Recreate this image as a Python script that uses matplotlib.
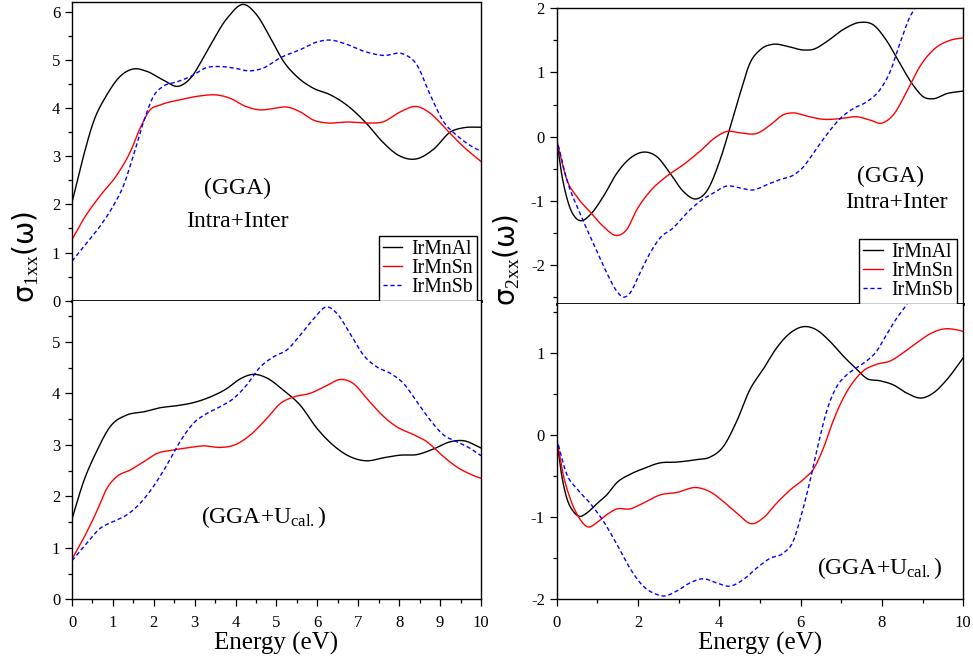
import matplotlib
matplotlib.use("Agg")
import matplotlib.pyplot as plt
import numpy as np
from matplotlib.ticker import MultipleLocator

plt.rcParams['font.family'] = ['Liberation Serif', 'DejaVu Sans']
plt.rcParams['mathtext.fontset'] = 'custom'
plt.rcParams['mathtext.rm'] = 'Liberation Serif'
plt.rcParams['mathtext.sf'] = 'DejaVu Sans'
plt.rcParams['axes.unicode_minus'] = False

names = ['IrMnAl', 'IrMnSn', 'IrMnSb']

# sigma_1xx, GGA (intra+inter)
e_1a_al = [0, 0.28, 0.52, 0.85, 1.17, 1.5, 1.83, 2.23, 2.6, 2.9, 3.3, 3.8, 4.2, 4.5, 4.85, 5.17,
           5.5, 5.9, 6.3, 6.72, 7.2, 7.6, 8.0, 8.4, 8.85, 9.25, 9.58, 10]
s_1a_al = [2.04, 3.0, 3.7, 4.27, 4.65, 4.81, 4.76, 4.58, 4.45, 4.62, 5.18, 5.87, 6.15, 5.95, 5.46, 4.97,
           4.65, 4.41, 4.28, 4.06, 3.68, 3.29, 3.01, 2.94, 3.15, 3.5, 3.59, 3.6]
e_1a_sn = [0, 0.28, 0.69, 1.09, 1.42, 1.66, 1.91, 2.15, 2.64, 3.13, 3.54, 3.87, 4.2, 4.6, 4.93, 5.25,
           5.58, 5.9, 6.23, 6.72, 7.2, 7.6, 8.03, 8.43, 8.76, 9.17, 9.58, 10]
s_1a_sn = [1.27, 1.69, 2.18, 2.6, 3.08, 3.57, 3.96, 4.06, 4.17, 4.25, 4.27, 4.2, 4.05, 3.96, 3.99, 4.02,
           3.92, 3.75, 3.69, 3.71, 3.69, 3.71, 3.92, 4.03, 3.89, 3.54, 3.19, 2.89]
e_1a_sb = [0, 0.36, 0.69, 1.01, 1.26, 1.5, 1.75, 1.99, 2.23, 2.56, 2.89, 3.3, 3.62, 3.95, 4.36, 4.68,
           5.09, 5.58, 5.99, 6.31, 6.72, 7.13, 7.62, 8.1, 8.43, 8.76, 9.09, 9.41, 9.74, 10]
s_1a_sb = [0.82, 1.2, 1.55, 1.97, 2.39, 3.01, 3.71, 4.24, 4.45, 4.54, 4.65, 4.84, 4.86, 4.83, 4.77, 4.83,
           5.04, 5.21, 5.37, 5.41, 5.32, 5.18, 5.09, 5.12, 4.9, 4.27, 3.71, 3.43, 3.22, 3.1]

# sigma_1xx, GGA+U
e_1b_al = [0, 0.28, 0.6, 0.93, 1.34, 1.75, 2.15, 2.56, 2.97, 3.38, 3.78, 4.11, 4.44, 4.76, 5.17, 5.58,
           5.99, 6.39, 6.8, 7.21, 7.62, 8.03, 8.43, 8.84, 9.25, 9.58, 10]
s_1b_al = [1.56, 2.28, 2.87, 3.35, 3.58, 3.64, 3.72, 3.76, 3.82, 3.93, 4.09, 4.28, 4.37, 4.3, 4.06, 3.77,
           3.32, 2.99, 2.77, 2.69, 2.75, 2.8, 2.81, 2.92, 3.06, 3.08, 2.94]
e_1b_sn = [0, 0.28, 0.6, 0.85, 1.09, 1.42, 1.75, 2.07, 2.48, 2.89, 3.21, 3.62, 3.95, 4.36, 4.76, 5.09,
           5.42, 5.82, 6.23, 6.56, 6.88, 7.21, 7.54, 7.94, 8.35, 8.68, 9.0, 9.41, 9.74, 10]
s_1b_sn = [0.78, 1.18, 1.7, 2.15, 2.38, 2.51, 2.67, 2.83, 2.9, 2.95, 2.98, 2.95, 2.99, 3.19, 3.51, 3.8,
           3.93, 4.0, 4.15, 4.27, 4.19, 3.9, 3.61, 3.35, 3.2, 3.06, 2.83, 2.57, 2.43, 2.35]
e_1b_sb = [0, 0.36, 0.69, 1.01, 1.34, 1.66, 1.99, 2.32, 2.64, 2.97, 3.3, 3.62, 3.95, 4.27, 4.6, 4.93,
           5.25, 5.58, 5.91, 6.23, 6.48, 6.8, 7.13, 7.46, 7.78, 8.11, 8.43, 8.76, 9.09, 9.41, 9.74, 10]
s_1b_sb = [0.75, 1.09, 1.38, 1.51, 1.64, 1.86, 2.19, 2.61, 3.06, 3.42, 3.61, 3.74, 3.9, 4.16, 4.51, 4.71,
           4.84, 5.13, 5.45, 5.68, 5.55, 5.16, 4.74, 4.51, 4.39, 4.19, 3.84, 3.48, 3.19, 3.06, 2.93, 2.79]

# sigma_2xx, GGA (intra+inter)
e_2a_al = [0, 0.12, 0.29, 0.49, 0.61, 0.82, 1.15, 1.48, 1.8, 2.17, 2.46, 2.79, 3.11, 3.44, 3.69, 4.02,
           4.26, 4.51, 4.75, 5.0, 5.33, 5.66, 6.07, 6.31, 6.64, 7.05, 7.46, 7.79, 8.11, 8.44, 8.77, 9.02,
           9.26, 9.59, 10]
s_2a_al = [-0.05, -0.57, -1.04, -1.28, -1.31, -1.22, -0.93, -0.57, -0.34, -0.24, -0.31, -0.57, -0.85,
           -0.97, -0.85, -0.36, 0.13, 0.67, 1.14, 1.35, 1.44, 1.41, 1.35, 1.36, 1.48, 1.67, 1.78, 1.74,
           1.5, 1.14, 0.8, 0.62, 0.59, 0.67, 0.71]
e_2a_sn = [0, 0.25, 0.49, 0.82, 1.15, 1.48, 1.72, 1.97, 2.3, 2.7, 3.11, 3.52, 3.93, 4.18, 4.51, 4.92,
           5.25, 5.57, 5.82, 6.15, 6.56, 6.97, 7.38, 7.7, 7.99, 8.28, 8.61, 8.93, 9.26, 9.67, 10]
s_2a_sn = [-0.05, -0.67, -0.93, -1.17, -1.4, -1.54, -1.45, -1.14, -0.85, -0.62, -0.44, -0.23, 0.0, 0.08,
           0.06, 0.05, 0.18, 0.34, 0.37, 0.32, 0.27, 0.28, 0.31, 0.26, 0.21, 0.34, 0.7, 1.09, 1.35, 1.5, 1.54]
e_2a_sb = [0, 0.25, 0.57, 0.9, 1.23, 1.48, 1.64, 1.8, 2.05, 2.3, 2.54, 2.87, 3.2, 3.52, 3.85, 4.18,
           4.51, 4.84, 5.16, 5.49, 5.82, 6.07, 6.31, 6.64, 6.97, 7.3, 7.62, 7.95, 8.2, 8.44, 8.69, 8.81,
           9.0, 9.3]
s_2a_sb = [-0.03, -0.67, -1.19, -1.66, -2.12, -2.41, -2.5, -2.44, -2.12, -1.81, -1.58, -1.42, -1.19,
           -1.01, -0.88, -0.77, -0.8, -0.83, -0.75, -0.67, -0.6, -0.47, -0.26, 0.03, 0.28, 0.44, 0.54,
           0.73, 1.01, 1.45, 1.87, 2.0, 2.3, 2.7]

# sigma_2xx, GGA+U
e_2b_al = [0, 0.12, 0.25, 0.41, 0.56, 0.74, 0.98, 1.23, 1.48, 1.8, 2.13, 2.54, 2.95, 3.44, 3.77, 4.1,
           4.43, 4.75, 5.08, 5.41, 5.74, 6.11, 6.39, 6.72, 7.05, 7.38, 7.62, 7.95, 8.28, 8.61, 8.98,
           9.26, 9.59, 10]
s_2b_al = [-0.04, -0.48, -0.77, -0.93, -0.99, -0.95, -0.84, -0.73, -0.58, -0.48, -0.41, -0.34, -0.33,
           -0.3, -0.27, -0.14, 0.17, 0.55, 0.8, 1.06, 1.24, 1.32, 1.28, 1.14, 0.96, 0.8, 0.69, 0.66,
           0.61, 0.51, 0.45, 0.51, 0.67, 0.94]
e_2b_sn = [0, 0.16, 0.33, 0.53, 0.78, 0.98, 1.23, 1.48, 1.8, 2.13, 2.54, 2.95, 3.44, 3.77, 4.1, 4.43,
           4.8, 5.08, 5.41, 5.74, 6.07, 6.31, 6.56, 6.8, 7.05, 7.3, 7.54, 7.87, 8.2, 8.52, 8.85, 9.18,
           9.51, 9.84, 10]
s_2b_sn = [-0.04, -0.48, -0.77, -0.99, -1.12, -1.07, -0.97, -0.9, -0.9, -0.83, -0.73, -0.7, -0.64,
           -0.69, -0.81, -0.95, -1.08, -1.01, -0.83, -0.67, -0.54, -0.42, -0.16, 0.17, 0.45, 0.65, 0.78,
           0.86, 0.9, 1.0, 1.12, 1.23, 1.29, 1.28, 1.26]
e_2b_sb = [0, 0.25, 0.49, 0.82, 1.15, 1.48, 1.8, 2.13, 2.46, 2.62, 2.95, 3.28, 3.61, 3.93, 4.26, 4.59,
           4.92, 5.25, 5.57, 5.82, 6.02, 6.23, 6.43, 6.64, 6.89, 7.13, 7.38, 7.62, 7.87, 8.11, 8.36,
           8.61, 8.8, 9.0]
s_2b_sb = [-0.04, -0.48, -0.65, -0.83, -1.05, -1.33, -1.62, -1.84, -1.94, -1.96, -1.9, -1.8, -1.75,
           -1.8, -1.84, -1.76, -1.62, -1.5, -1.44, -1.29, -0.97, -0.56, -0.12, 0.29, 0.59, 0.73, 0.82,
           0.9, 1.02, 1.22, 1.42, 1.59, 1.75, 1.9]

colors = ['black', 'red', 'blue']
styles = [dict(ls='-'), dict(ls='-'), dict(ls=(0, (3, 2)))]


def smooth(x, y):
    # cubic Hermite through the read points for a smooth trace
    x = np.asarray(x, float)
    y = np.asarray(y, float)
    xs = np.linspace(x[0], x[-1], 600)
    n = len(x)
    h = np.diff(x)
    d = np.diff(y) / h
    m = np.zeros(n)
    m[1:-1] = (d[:-1] * h[1:] + d[1:] * h[:-1]) / (h[:-1] + h[1:])
    m[0] = d[0]
    m[-1] = d[-1]
    idx = np.clip(np.searchsorted(x, xs) - 1, 0, n - 2)
    t = (xs - x[idx]) / h[idx]
    h00 = 2 * t**3 - 3 * t**2 + 1
    h10 = t**3 - 2 * t**2 + t
    h01 = -2 * t**3 + 3 * t**2
    h11 = t**3 - t**2
    ys = h00 * y[idx] + h10 * h[idx] * m[idx] + h01 * y[idx + 1] + h11 * h[idx] * m[idx + 1]
    return xs, ys


fig = plt.figure(figsize=(9.73, 6.62), dpi=100)
ax1 = fig.add_axes([0.074, 0.5458, 0.4203, 0.4512])
ax2 = fig.add_axes([0.074, 0.0947, 0.4203, 0.4511])
ax3 = fig.add_axes([0.5721, 0.5415, 0.4179, 0.4460])
ax4 = fig.add_axes([0.5721, 0.0947, 0.4179, 0.4468])

panels = [
    (ax1, [(e_1a_al, s_1a_al), (e_1a_sn, s_1a_sn), (e_1a_sb, s_1a_sb)], (0, 6.2)),
    (ax2, [(e_1b_al, s_1b_al), (e_1b_sn, s_1b_sn), (e_1b_sb, s_1b_sb)], (0, 5.8)),
    (ax3, [(e_2a_al, s_2a_al), (e_2a_sn, s_2a_sn), (e_2a_sb, s_2a_sb)], (-2.6, 2)),
    (ax4, [(e_2b_al, s_2b_al), (e_2b_sn, s_2b_sn), (e_2b_sb, s_2b_sb)], (-2, 1.6)),
]

for ax, series, ylim in panels:
    for (x, y), c, st, nm in zip(series, colors, styles, names):
        xs, ys = smooth(x, y)
        ax.plot(xs, ys, color=c, lw=1.0, label=nm, **st)
    ax.set_xlim(0, 10)
    ax.set_ylim(*ylim)
    ax.tick_params(which='both', direction='out', top=False, right=False, labelsize=12)
    ax.tick_params(which='major', length=5, width=0.9)
    ax.tick_params(which='minor', length=3, width=0.9)
    ax.tick_params(axis='x', pad=6)
    ax.tick_params(axis='y', pad=3.5)
    ax.yaxis.set_major_locator(MultipleLocator(1))
    ax.yaxis.set_minor_locator(MultipleLocator(0.5))
    for sp in ax.spines.values():
        sp.set_linewidth(1.0)

for ax in (ax1, ax2):
    ax.xaxis.set_major_locator(MultipleLocator(1))
    ax.xaxis.set_minor_locator(MultipleLocator(0.5))
for ax in (ax3, ax4):
    ax.xaxis.set_major_locator(MultipleLocator(2))
    ax.xaxis.set_minor_locator(MultipleLocator(1))

for ax in (ax1, ax3):
    ax.tick_params(axis='x', which='both', bottom=False, labelbottom=False)
    ax.spines['bottom'].set_linewidth(2.0)
for ax in (ax2, ax4):
    ax.spines['top'].set_visible(False)
    ax.set_xlabel('Energy (eV)', fontsize=18, labelpad=1)

ax2.set_yticks([0, 1, 2, 3, 4, 5])
ax4.set_yticks([-2, -1, 0, 1])

legend_kw = dict(loc='lower right', fontsize=14.2, frameon=True, fancybox=False,
                 edgecolor='black', framealpha=1, borderpad=0.2, labelspacing=0.0,
                 handlelength=1.0, handletextpad=0.45, borderaxespad=0)
leg = ax1.legend(bbox_to_anchor=(0.99, 0.0), **legend_kw)
leg.get_frame().set_linewidth(1.0)
leg = ax3.legend(bbox_to_anchor=(0.985, 0.0), **legend_kw)
leg.get_frame().set_linewidth(1.0)

ax1.text(4.04, 2.32, '(GGA)', fontsize=17, ha='center', va='center')
ax1.text(4.04, 1.65, 'Intra+Inter', fontsize=17, ha='center', va='center')
ax2.text(4.7, 1.6, r'$\mathrm{(GGA{+}U_{cal.})}$', fontsize=17, ha='center', va='center')
ax3.text(8.2, -0.62, '(GGA)', fontsize=17, ha='center', va='center')
ax3.text(8.36, -1.03, 'Intra+Inter', fontsize=17, ha='center', va='center')
ax4.text(7.95, -1.62, r'$\mathrm{(GGA{+}U_{cal.})}$', fontsize=17, ha='center', va='center')

fig.text(0.026, 0.612, r'$\mathsf{σ}_{\mathrm{1xx}}\mathsf{(ω)}$', rotation=90,
         fontsize=20, ha='center', va='center')
fig.text(0.521, 0.607, r'$\mathsf{σ}_{\mathrm{2xx}}\mathsf{(ω)}$', rotation=90,
         fontsize=20, ha='center', va='center')

fig.savefig('out.png', dpi=100)
